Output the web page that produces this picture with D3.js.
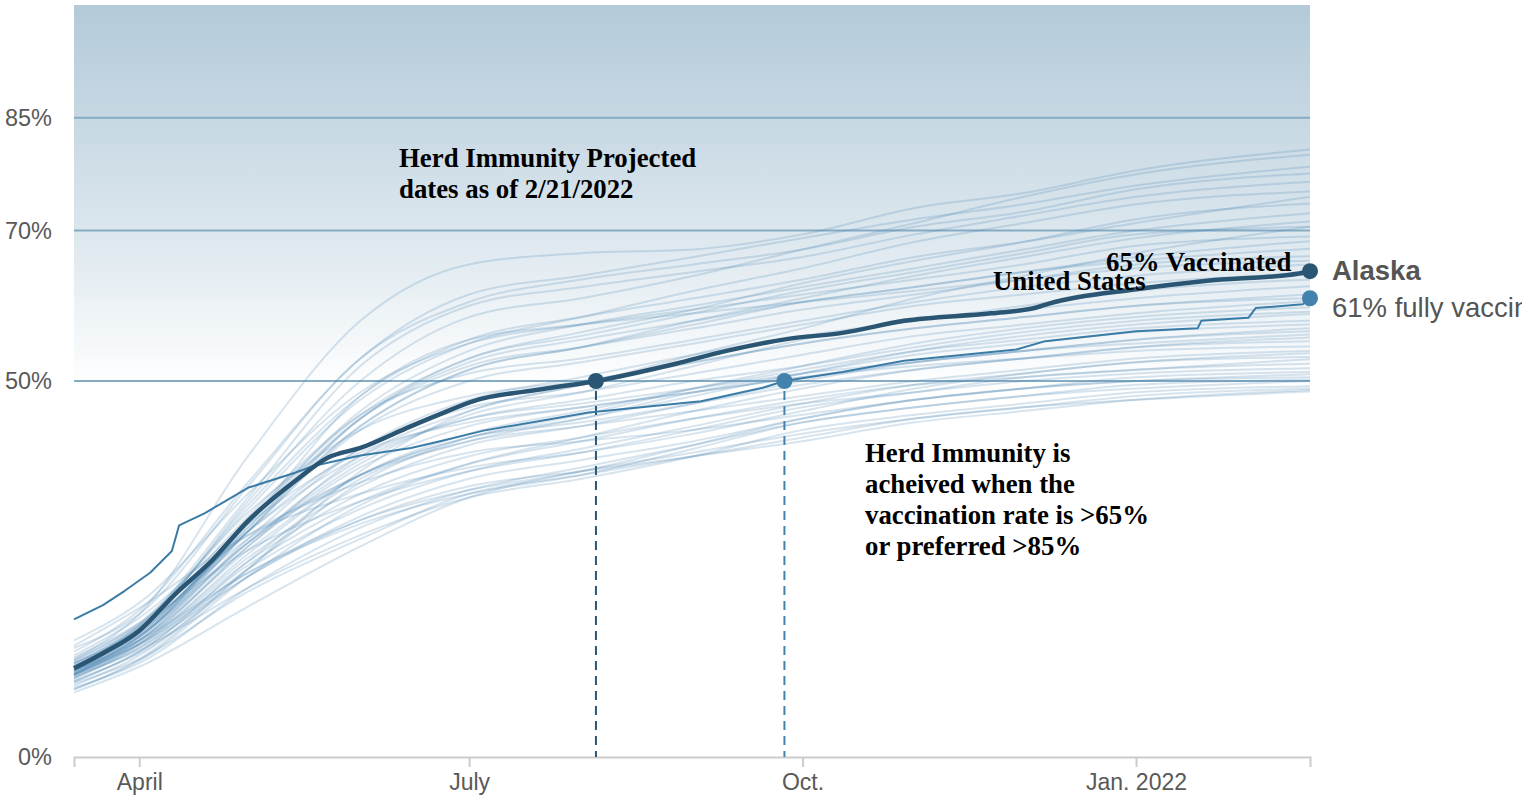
<!DOCTYPE html>
<html>
<head>
<meta charset="utf-8">
<script src="https://cdn.jsdelivr.net/npm/d3@7"></script>
<style>
    html, body { margin: 0; padding: 0; background: #fff; }
    .axis text { font-family: "Liberation Sans", Arial, Helvetica, sans-serif; fill: #595959; }
    .note { font-family: "Liberation Serif", "Times New Roman", serif; font-weight: bold; fill: #000; }
</style>
</head>
<body>
<div id="chart"></div>
<script>
// Data (percent fully vaccinated)
const stateDates = ['2021-03-14', '2021-04-01', '2021-05-01', '2021-06-01', '2021-07-01', '2021-08-01',
    '2021-09-01', '2021-10-01', '2021-11-01', '2021-12-01', '2022-01-01', '2022-02-18'];

const stateNames = ['VT', 'RI', 'ME', 'CT', 'MA', 'HI', 'NY', 'NJ', 'MD', 'VA', 'WA', 'NM', 'CA', 'OR',
    'CO', 'NH', 'MN', 'DE', 'IL', 'FL', 'WI', 'PA', 'NE', 'UT', 'MI', 'KS', 'AZ', 'NV', 'SD', 'NC', 'IA',
    'TX', 'KY', 'OH', 'MT', 'WV', 'SC', 'OK', 'MO', 'IN', 'ND', 'AR', 'TN', 'GA', 'LA', 'MS', 'AL', 'WY',
    'ID', 'DC'];

const stateValues = [
    [13.0, 19.0, 40.0, 58.0, 65.5, 67.0, 67.5, 69.5, 73.0, 75.0, 78.0, 80.8],
    [12.5, 17.0, 34.0, 50.0, 58.5, 61.0, 64.0, 67.5, 71.0, 74.5, 77.5, 80.1],
    [14.0, 19.5, 36.5, 53.0, 61.5, 64.0, 66.5, 69.0, 71.5, 73.5, 76.0, 78.5],
    [14.5, 19.0, 36.0, 53.0, 60.5, 63.5, 65.5, 67.5, 70.5, 72.5, 75.5, 77.6],
    [12.0, 17.5, 34.5, 52.0, 60.0, 62.5, 64.5, 66.5, 69.5, 72.0, 74.5, 76.5],
    [12.8, 17.8, 33.0, 47.5, 55.0, 58.5, 62.0, 65.0, 68.5, 71.0, 73.5, 75.2],
    [11.5, 16.0, 31.5, 45.5, 53.0, 56.5, 59.5, 63.0, 66.0, 68.5, 71.5, 73.6],
    [12.2, 17.2, 33.5, 48.0, 55.5, 58.5, 61.0, 63.5, 66.5, 68.5, 71.0, 74.5],
    [11.0, 15.8, 31.0, 46.0, 54.0, 57.5, 60.0, 62.5, 65.0, 67.5, 70.0, 72.3],
    [10.8, 15.5, 30.0, 44.0, 51.5, 54.5, 58.0, 61.0, 64.0, 66.5, 69.0, 71.2],
    [11.2, 16.0, 30.5, 45.0, 53.0, 56.0, 59.0, 62.0, 64.5, 67.0, 69.5, 70.5],
    [15.5, 20.5, 35.0, 48.5, 55.0, 57.5, 59.5, 61.5, 63.5, 65.5, 68.0, 69.2],
    [11.5, 16.5, 30.5, 44.0, 51.5, 54.5, 57.5, 60.5, 62.5, 64.5, 66.5, 68.6],
    [11.0, 16.0, 30.0, 45.0, 52.5, 55.5, 58.0, 60.5, 62.5, 64.5, 66.0, 67.6],
    [11.8, 16.5, 31.0, 45.0, 52.0, 54.5, 57.0, 59.5, 61.5, 63.5, 65.5, 66.6],
    [11.5, 16.5, 31.0, 48.0, 55.5, 57.5, 59.0, 60.5, 62.0, 63.5, 65.0, 66.0],
    [12.0, 17.0, 32.0, 45.5, 51.0, 53.0, 55.5, 58.0, 60.5, 62.5, 64.0, 65.5],
    [11.0, 16.2, 30.0, 43.5, 50.0, 52.5, 55.0, 57.5, 60.0, 61.5, 63.0, 64.3],
    [11.3, 15.5, 29.0, 41.0, 47.5, 50.5, 53.5, 56.0, 58.0, 60.0, 62.0, 63.5],
    [11.5, 16.0, 28.5, 39.0, 45.5, 48.5, 52.0, 55.5, 58.0, 59.5, 61.0, 62.6],
    [12.3, 17.5, 32.5, 43.5, 48.0, 50.0, 52.5, 55.0, 57.0, 58.5, 60.0, 61.5],
    [10.5, 15.0, 28.0, 40.0, 46.0, 49.5, 52.5, 55.0, 57.0, 58.5, 60.0, 61.0],
    [12.0, 16.8, 30.0, 41.0, 46.5, 48.5, 51.0, 53.5, 56.0, 57.5, 59.0, 60.6],
    [9.5, 13.5, 25.0, 36.5, 42.5, 45.5, 49.0, 52.0, 55.0, 57.0, 58.5, 59.8],
    [11.0, 15.5, 28.5, 39.5, 45.0, 47.5, 50.0, 52.0, 54.5, 56.5, 58.0, 59.2],
    [11.5, 15.5, 27.5, 37.5, 42.5, 45.0, 48.0, 51.0, 54.0, 56.0, 57.5, 58.9],
    [11.0, 15.0, 27.0, 37.5, 43.0, 46.0, 49.0, 51.5, 54.0, 55.5, 57.0, 58.0],
    [10.0, 14.0, 26.0, 37.0, 42.0, 45.0, 48.5, 51.0, 53.5, 55.0, 56.5, 57.5],
    [13.5, 18.5, 31.0, 40.5, 44.5, 46.5, 48.5, 50.5, 52.5, 54.0, 55.5, 57.0],
    [11.2, 15.0, 26.5, 36.0, 41.5, 44.0, 47.0, 50.0, 52.5, 54.0, 55.5, 56.6],
    [12.5, 17.0, 30.0, 40.0, 45.0, 47.0, 49.0, 51.0, 52.5, 54.0, 55.0, 56.2],
    [9.0, 12.8, 24.0, 33.5, 39.0, 42.5, 46.0, 49.0, 51.5, 53.0, 54.5, 55.8],
    [11.8, 16.2, 28.5, 37.5, 42.5, 44.5, 47.0, 49.5, 51.5, 53.0, 54.5, 55.3],
    [11.0, 15.2, 28.0, 38.5, 44.0, 46.5, 48.5, 50.5, 52.0, 53.0, 54.0, 54.6],
    [12.5, 17.2, 29.0, 37.5, 42.0, 44.0, 46.0, 48.0, 50.0, 51.5, 53.0, 54.0],
    [14.8, 19.8, 29.5, 35.0, 38.5, 40.5, 43.0, 46.0, 49.0, 51.0, 52.5, 53.7],
    [10.0, 14.0, 25.0, 33.0, 38.0, 41.0, 44.0, 47.0, 49.5, 51.0, 52.5, 53.2],
    [12.8, 17.5, 27.5, 34.0, 38.0, 40.5, 43.5, 46.5, 48.5, 50.5, 51.5, 52.9],
    [10.5, 14.5, 25.5, 34.0, 39.0, 42.0, 45.0, 47.5, 49.5, 50.5, 51.5, 52.3],
    [10.8, 14.8, 26.0, 35.0, 40.0, 42.5, 45.0, 47.0, 48.5, 50.0, 51.0, 51.7],
    [13.2, 17.8, 29.5, 36.5, 40.5, 42.0, 43.5, 45.5, 47.5, 49.0, 50.5, 51.2],
    [11.5, 15.0, 24.5, 31.5, 35.5, 38.0, 41.5, 45.0, 47.5, 49.0, 50.0, 50.9],
    [10.2, 13.8, 24.0, 32.0, 37.0, 39.5, 42.0, 45.0, 47.5, 49.0, 50.0, 50.5],
    [9.2, 12.5, 22.5, 30.5, 35.5, 38.5, 41.5, 44.5, 46.5, 48.0, 49.5, 50.2],
    [11.5, 15.5, 24.5, 31.0, 35.0, 37.5, 41.0, 44.5, 46.5, 48.0, 49.0, 50.0],
    [10.8, 14.2, 22.5, 29.5, 34.5, 37.0, 40.0, 43.5, 45.5, 47.0, 48.5, 49.3],
    [9.8, 13.0, 22.0, 29.0, 35.0, 37.5, 40.0, 42.5, 45.0, 46.5, 47.5, 48.6],
    [10.5, 14.5, 24.0, 31.5, 36.0, 38.0, 40.0, 42.0, 44.5, 46.0, 47.5, 48.8],
    [8.6, 12.0, 20.0, 28.0, 34.5, 38.0, 40.5, 43.0, 45.0, 46.5, 48.0, 49.0],
    [9.0, 13.0, 25.0, 38.0, 46.0, 49.5, 53.5, 57.0, 61.0, 64.0, 67.0, 70.5]
];

const usDates = ['2021-03-14', '2021-03-22', '2021-04-01', '2021-04-11', '2021-04-21', '2021-05-01',
    '2021-05-14', '2021-05-23', '2021-06-01', '2021-06-15', '2021-06-23', '2021-07-02', '2021-07-21',
    '2021-08-05', '2021-08-27', '2021-09-10', '2021-09-27', '2021-10-12', '2021-10-29', '2021-11-22',
    '2021-12-04', '2021-12-08', '2022-01-01', '2022-01-20', '2022-02-15', '2022-02-18'];
const usValues = [11.8, 13.8, 16.8, 21.7, 26.1, 31.4, 36.7, 39.8, 41.1, 44.0, 45.6, 47.3, 48.9,
    50.0, 52.3, 54.0, 55.6, 56.4, 58.0, 59.0, 59.7, 60.3, 62.2, 63.3, 64.3, 64.6];

const alaskaDates = ['2021-03-14', '2021-03-22', '2021-03-28', '2021-04-04', '2021-04-10', '2021-04-12',
    '2021-04-19', '2021-05-01', '2021-05-14', '2021-05-19', '2021-06-01', '2021-06-15', '2021-06-23',
    '2021-07-05', '2021-08-03', '2021-09-03', '2021-09-20', '2021-09-26', '2021-10-12', '2021-10-29',
    '2021-11-29', '2021-12-07', '2022-01-01', '2022-01-18', '2022-01-19', '2022-02-01', '2022-02-03',
    '2022-02-16', '2022-02-18'];
const alaskaValues = [18.3, 20.2, 22.1, 24.5, 27.4, 30.8, 32.4, 35.8, 37.8, 38.7, 40.1, 41.1, 42.0,
    43.4, 45.8, 47.3, 49.1, 50.0, 51.2, 52.7, 54.2, 55.3, 56.6, 57.0, 58.0, 58.4, 59.7, 60.2, 61.0];

// herd immunity milestones (date the line crossed 50%)
const milestoneDates = ['2021-08-05', '2021-09-26'];
const milestoneValue = 50;

const thresholdValues = [50, 70, 85];
const yTickValues = [0, 50, 70, 85];
const xTickDates = ['2021-04-01', '2021-07-01', '2021-10-01', '2022-01-01'];
const xTickLabels = ['April', 'July', 'Oct.', 'Jan. 2022'];
const xDomain = ['2021-03-14', '2022-02-18'];

function herdChart() {
    let width = 1522;
    let height = 804;
    let margin = {top: 5, right: 212, bottom: 47, left: 74};
    let chartWidth;
    let chartHeight;
    let svg;
    let xScale;
    let yScale;

    const parse = d3.utcParse('%Y-%m-%d');
    const colors = {
        us: '#2a5674',
        alaska: '#3b7ca6',
        alaskaDot: '#4282ad',
        state: '#4a85b0',
        rule: '#86abc3'
    };

    function exports(container) {
        chartWidth = width - margin.left - margin.right;
        chartHeight = height - margin.top - margin.bottom;

        buildScales();
        buildSVG(container);
        drawBackground();
        drawAxes();
        drawStates();
        drawHighlights();
        drawNotes();
    }

    function buildScales() {
        xScale = d3.scaleUtc()
            .domain(xDomain.map(parse))
            .range([0, chartWidth]);

        yScale = d3.scaleLinear()
            .domain([0, 100])
            .range([chartHeight, 0]);
    }

    function buildSVG(container) {
        svg = d3.select(container)
          .append('svg')
            .attr('width', width)
            .attr('height', height)
            .style('display', 'block')
            .style('overflow', 'hidden');

        svg.append('defs')
          .append('linearGradient')
            .attr('id', 'sky')
            .attr('x1', 0).attr('y1', 0)
            .attr('x2', 0).attr('y2', 1)
          .selectAll('stop')
          .data([[0, '#b3cad9'], [0.3, '#c7d8e3'], [0.6, '#dce7ee'], [1, '#ffffff']])
          .join('stop')
            .attr('offset', d => d[0])
            .attr('stop-color', d => d[1]);

        svg = svg.append('g')
            .attr('transform', `translate(${margin.left},${margin.top})`);
    }

    function drawBackground() {
        svg.append('rect')
            .attr('x', 0)
            .attr('y', 0)
            .attr('width', chartWidth)
            .attr('height', yScale(49))
            .attr('fill', 'url(#sky)');

        svg.selectAll('.rule')
          .data(thresholdValues)
          .join('line')
            .classed('rule', true)
            .attr('x1', 0)
            .attr('x2', chartWidth)
            .attr('y1', d => yScale(d))
            .attr('y2', d => yScale(d))
            .attr('stroke', colors.rule)
            .attr('stroke-width', 2);
    }

    function drawAxes() {
        const xAxis = d3.axisBottom(xScale)
            .tickValues(xTickDates.map(parse))
            .tickFormat((d, i) => xTickLabels[i])
            .tickSize(10)
            .tickPadding(7);

        const gx = svg.append('g')
            .classed('axis', true)
            .attr('transform', `translate(0,${chartHeight})`)
            .call(xAxis);
        gx.selectAll('path, line').attr('stroke', '#cccccc').attr('stroke-width', 2);
        gx.selectAll('text').style('font-size', '23px');

        const yAxis = d3.axisLeft(yScale)
            .tickValues(yTickValues)
            .tickFormat(d => `${d}%`)
            .tickSize(0)
            .tickPadding(22);

        const gy = svg.append('g')
            .classed('axis', true)
            .call(yAxis);
        gy.select('.domain').remove();
        gy.selectAll('text').style('font-size', '23.5px');
    }

    function drawStates() {
        const dates = stateDates.map(parse);
        const line = d3.line()
            .x((d, i) => xScale(dates[i]))
            .y(d => yScale(d))
            .curve(d3.curveMonotoneX);

        svg.append('g')
            .selectAll('path')
          .data(stateValues)
          .join('path')
            .attr('d', line)
            .attr('fill', 'none')
            .attr('stroke', colors.state)
            .attr('stroke-opacity', 0.22)
            .attr('stroke-width', 2);
    }

    function drawHighlights() {
        const series = [
            {dates: alaskaDates, values: alaskaValues, color: colors.alaska, dot: colors.alaskaDot, width: 2,
                curve: d3.curveLinear},
            {dates: usDates, values: usValues, color: colors.us, dot: colors.us, width: 4.5,
                curve: d3.curveMonotoneX}
        ];

        // dashed drop lines from the 50% crossings
        const drops = [
            {date: parse(milestoneDates[0]), color: colors.us},
            {date: parse(milestoneDates[1]), color: colors.alaskaDot}
        ];
        svg.selectAll('.drop')
          .data(drops)
          .join('line')
            .classed('drop', true)
            .attr('x1', d => xScale(d.date))
            .attr('x2', d => xScale(d.date))
            .attr('y1', yScale(milestoneValue) + 10)
            .attr('y2', chartHeight)
            .attr('stroke', d => d.color)
            .attr('stroke-width', 2)
            .attr('stroke-dasharray', '9,6');

        series.forEach(s => {
            const pts = s.dates.map((d, i) => [parse(d), s.values[i]]);
            const line = d3.line()
                .x(d => xScale(d[0]))
                .y(d => yScale(d[1]))
                .curve(s.curve);
            svg.append('path')
                .datum(pts)
                .attr('d', line)
                .attr('fill', 'none')
                .attr('stroke', s.color)
                .attr('stroke-width', s.width)
                .attr('stroke-linejoin', 'round');
            const last = pts[pts.length - 1];
            svg.append('circle')
                .attr('cx', xScale(last[0]))
                .attr('cy', yScale(last[1]))
                .attr('r', 8)
                .attr('fill', s.dot);
        });

        svg.selectAll('.milestone')
          .data(drops)
          .join('circle')
            .classed('milestone', true)
            .attr('cx', d => xScale(d.date))
            .attr('cy', yScale(milestoneValue))
            .attr('r', 8)
            .attr('fill', d => d.color);

        // end labels (the second one runs past the edge, as in the original)
        const endX = chartWidth + 22;
        svg.append('text')
            .attr('x', endX)
            .attr('y', yScale(usValues[usValues.length - 1]) + 9)
            .style('font-family', '"Liberation Sans", Arial, sans-serif')
            .style('font-weight', 'bold')
            .style('font-size', '27.5px')
            .attr('fill', '#555555')
            .text('Alaska');
        svg.append('text')
            .attr('x', endX)
            .attr('y', yScale(alaskaValues[alaskaValues.length - 1]) + 19)
            .style('font-family', '"Liberation Sans", Arial, sans-serif')
            .style('font-size', '27.5px')
            .attr('fill', '#555555')
            .text('61% fully vaccinated');
    }

    function drawNotes() {
        const notes = [
            {x: 325, y: 162, lines: ['Herd Immunity Projected', 'dates as of 2/21/2022']},
            {x: 791, y: 457, lines: ['Herd Immunity is', 'acheived when the', 'vaccination rate is >65%', 'or preferred >85%']},
            {x: 1032, y: 266, lines: ['65% Vaccinated']},
            {x: 919, y: 285, lines: ['United States']}
        ];
        notes.forEach(n => {
            svg.append('text')
                .classed('note', true)
                .attr('x', n.x)
                .attr('y', n.y)
                .style('font-size', '26.8px')
              .selectAll('tspan')
              .data(n.lines)
              .join('tspan')
                .attr('x', n.x)
                .attr('dy', (d, i) => i ? 31 : 0)
                .text(d => d);
        });
    }

    return exports;
}

herdChart()(document.getElementById('chart'));
</script>
</body>
</html>
